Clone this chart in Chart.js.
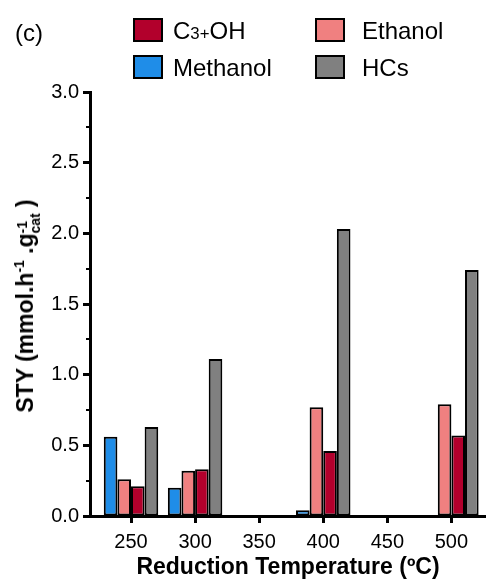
<!DOCTYPE html>
<html>
<head>
<meta charset="utf-8">
<script src="https://cdn.jsdelivr.net/npm/chart.js@4/dist/chart.umd.min.js"></script>
<style>
  html, body { margin: 0; padding: 0; background: #fff; }
  #wrap { position: relative; width: 486px; height: 581px; font-family: Arial, "Liberation Sans", sans-serif; }
  #chart { position: absolute; left: 0; top: 0; }
  .lab { position: absolute; white-space: nowrap; color: #000; }
  .box { position: absolute; width: 26px; height: 20px; border: 2px solid #000; }
  .leg { position: absolute; font-size: 24px; line-height: 24px; white-space: nowrap; }
  #ytitle { position: absolute; left: 27px; top: 306px; font-weight: bold; font-size: 23px; white-space: nowrap;
            transform: translate(-50%, -50%) rotate(-90deg); }
  #ytitle sup { font-size: 60%; line-height: 0; }
  #ytitle .stack { display: inline-block; font-size: 60%; line-height: 0.95em; vertical-align: -0.5em; }
</style>
</head>
<body>
<div id="wrap">
  <canvas id="chart" width="486" height="581"></canvas>
  <div class="lab" style="left:15px; top:19px; font-size:24px;">(c)</div>
  <div id="legend"></div>
  <div id="ytitle">STY (mmol.h<sup>-1</sup> .g<span class="stack">-1<br>cat</span> )</div>
</div>
<script>
const temps = [250, 300, 350, 400, 450, 500];
const methanol = [0.56, 0.20, null, 0.04, null, null];
const ethanol = [0.26, 0.32, null, 0.77, null, 0.79];
const c3oh = [0.21, 0.33, null, 0.46, null, 0.57];
const hcs = [0.63, 1.11, null, 2.03, null, 1.74];

const names = ['Methanol', 'Ethanol', 'C<span style="font-size:70%">3+</span>OH', 'HCs'];
const colors = ['#1f8de8', '#f08080', '#b2002c', '#808080'];
const series = [methanol, ethanol, c3oh, hcs];

// legend laid out like the figure: C3+OH / Ethanol on top, Methanol / HCs below
const legendPos = [[133, 55], [315, 18], [133, 18], [315, 55]];
const legend = document.getElementById('legend');
names.forEach((n, i) => {
  const [x, y] = legendPos[i];
  const b = document.createElement('div');
  b.className = 'box';
  b.style.left = x + 'px'; b.style.top = y + 'px'; b.style.background = colors[i];
  legend.appendChild(b);
  const t = document.createElement('div');
  t.className = 'leg';
  t.style.left = (x + (i % 2 ? 47 : 40)) + 'px'; t.style.top = (y + 1) + 'px';
  t.innerHTML = n;
  legend.appendChild(t);
});

const minorTicks = {
  id: 'minorTicks',
  afterDraw(chart) {
    const y = chart.scales.y, ctx = chart.ctx, x0 = chart.chartArea.left;
    ctx.save();
    ctx.strokeStyle = '#000';
    ctx.lineWidth = 2;
    for (let v = 0.25; v < 3; v += 0.5) {
      const p = Math.round(y.getPixelForValue(v));
      ctx.beginPath();
      ctx.moveTo(x0 - 4, p);
      ctx.lineTo(x0, p);
      ctx.stroke();
    }
    ctx.restore();
  }
};

new Chart(document.getElementById('chart'), {
  type: 'bar',
  data: {
    datasets: series.map((s, i) => ({
      label: names[i],
      data: temps.map((t, j) => ({ x: t, y: s[j] })),
      backgroundColor: colors[i],
      borderColor: '#000',
      borderWidth: 2,
      borderSkipped: false,
      categoryPercentage: 0.85,
      barPercentage: 1
    }))
  },
  options: {
    responsive: false,
    animation: false,
    layout: { padding: { top: 92, right: 0, left: 0, bottom: 0 } },
    plugins: { legend: { display: false }, tooltip: { enabled: false } },
    scales: {
      x: {
        type: 'linear',
        min: 218,
        max: 527,
        offset: false,
        afterFit: s => { s.height = 65; },
        border: { color: '#000', width: 3, z: 1 },
        grid: { offset: false, drawOnChartArea: false, tickLength: 7, tickWidth: 3, tickColor: '#000' },
        ticks: {
          stepSize: 50,
          includeBounds: false,
          padding: 7,
          color: '#000',
          font: { family: 'Arial, "Liberation Sans"', size: 20 },
          callback: v => v
        },
        title: {
          display: true,
          text: 'Reduction Temperature (ºC)',
          color: '#000',
          padding: { top: 0, bottom: 0 },
          font: { family: 'Arial, "Liberation Sans"', size: 23, weight: 'bold' }
        }
      },
      y: {
        min: 0,
        max: 3,
        afterFit: s => { s.width = 90; },
        border: { color: '#000', width: 3 },
        grid: { drawOnChartArea: false, tickLength: 7, tickWidth: 3, tickColor: '#000' },
        ticks: {
          stepSize: 0.5,
          padding: 4,
          color: '#000',
          font: { family: 'Arial, "Liberation Sans"', size: 20 },
          callback: v => v.toFixed(1)
        }
      }
    }
  },
  plugins: [minorTicks]
});
</script>
</body>
</html>
